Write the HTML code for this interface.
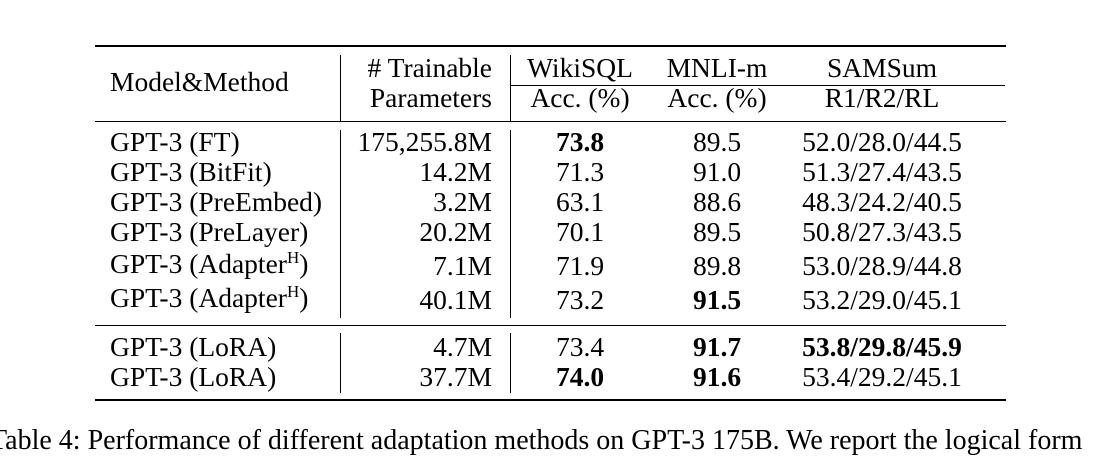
<!DOCTYPE html>
<html><head><meta charset="utf-8"><style>
html,body{margin:0;padding:0;background:#fff;}
body{width:1099px;height:450px;position:relative;overflow:hidden;font-family:"Liberation Serif",serif;color:#000;}
.t{position:absolute;font-size:27.5px;line-height:28px;white-space:nowrap;transform:translateY(-50%);}
.l{left:110px}
.r{right:607px;text-align:right}
.c{transform:translate(-50%,-50%)}
.b{font-weight:bold}
.h{position:absolute;background:#000;}
sup{font-size:17px;vertical-align:0;position:relative;top:-10px}
</style></head><body>
<div class="h" style="left:95px;width:911px;top:45px;height:2px"></div>
<div class="h" style="left:95px;width:911px;top:121px;height:1px"></div>
<div class="h" style="left:510px;width:495px;top:85px;height:1px"></div>
<div class="h" style="left:95px;width:911px;top:325px;height:1px"></div>
<div class="h" style="left:95px;width:911px;top:399px;height:2px"></div>
<div class="h" style="left:340px;width:1px;top:55px;height:66px"></div>
<div class="h" style="left:340px;width:1px;top:130px;height:188px"></div>
<div class="h" style="left:340px;width:1px;top:333px;height:60px"></div>
<div class="h" style="left:510px;width:1px;top:55px;height:66px"></div>
<div class="h" style="left:510px;width:1px;top:130px;height:188px"></div>
<div class="h" style="left:510px;width:1px;top:333px;height:60px"></div>

<div class="t l" style="top:82px">Model&amp;Method</div>
<div class="t r" style="top:68px"># Trainable</div>
<div class="t r" style="top:98px">Parameters</div>
<div class="t c" style="left:580px;top:68px">WikiSQL</div>
<div class="t c" style="left:580px;top:98px">Acc. (%)</div>
<div class="t c" style="left:717px;top:68px">MNLI-m</div>
<div class="t c" style="left:717px;top:98px">Acc. (%)</div>
<div class="t c" style="left:882px;top:68px">SAMSum</div>
<div class="t c" style="left:882px;top:98px">R1/R2/RL</div>

<div>
<div class="t l" style="top:142px">GPT-3 (FT)</div><div class="t r" style="top:142px">175,255.8M</div>
<div class="t c b" style="left:580px;top:142px">73.8</div><div class="t c" style="left:717px;top:142px">89.5</div><div class="t c" style="left:882px;top:142px">52.0/28.0/44.5</div></div>
<div>
<div class="t l" style="top:172px">GPT-3 (BitFit)</div><div class="t r" style="top:172px">14.2M</div>
<div class="t c" style="left:580px;top:172px">71.3</div><div class="t c" style="left:717px;top:172px">91.0</div><div class="t c" style="left:882px;top:172px">51.3/27.4/43.5</div></div>
<div>
<div class="t l" style="top:202px">GPT-3 (PreEmbed)</div><div class="t r" style="top:202px">3.2M</div>
<div class="t c" style="left:580px;top:202px">63.1</div><div class="t c" style="left:717px;top:202px">88.6</div><div class="t c" style="left:882px;top:202px">48.3/24.2/40.5</div></div>
<div>
<div class="t l" style="top:232px">GPT-3 (PreLayer)</div><div class="t r" style="top:232px">20.2M</div>
<div class="t c" style="left:580px;top:232px">70.1</div><div class="t c" style="left:717px;top:232px">89.5</div><div class="t c" style="left:882px;top:232px">50.8/27.3/43.5</div></div>
<div>
<div class="t l" style="top:266px">GPT-3 (Adapter<sup>H</sup>)</div><div class="t r" style="top:266px">7.1M</div>
<div class="t c" style="left:580px;top:266px">71.9</div><div class="t c" style="left:717px;top:266px">89.8</div><div class="t c" style="left:882px;top:266px">53.0/28.9/44.8</div></div>
<div>
<div class="t l" style="top:300px">GPT-3 (Adapter<sup>H</sup>)</div><div class="t r" style="top:300px">40.1M</div>
<div class="t c" style="left:580px;top:300px">73.2</div><div class="t c b" style="left:717px;top:300px">91.5</div><div class="t c" style="left:882px;top:300px">53.2/29.0/45.1</div></div>
<div>
<div class="t l" style="top:347px">GPT-3 (LoRA)</div><div class="t r" style="top:347px">4.7M</div>
<div class="t c" style="left:580px;top:347px">73.4</div><div class="t c b" style="left:717px;top:347px">91.7</div><div class="t c b" style="left:882px;top:347px">53.8/29.8/45.9</div></div>
<div>
<div class="t l" style="top:377px">GPT-3 (LoRA)</div><div class="t r" style="top:377px">37.7M</div>
<div class="t c b" style="left:580px;top:377px">74.0</div><div class="t c b" style="left:717px;top:377px">91.6</div><div class="t c" style="left:882px;top:377px">53.4/29.2/45.1</div></div>

<div class="t" style="left:-10px;top:441px;font-size:28px">Table 4: Performance of different adaptation methods on GPT-3 175B. We report the logical form</div>
</body></html>
